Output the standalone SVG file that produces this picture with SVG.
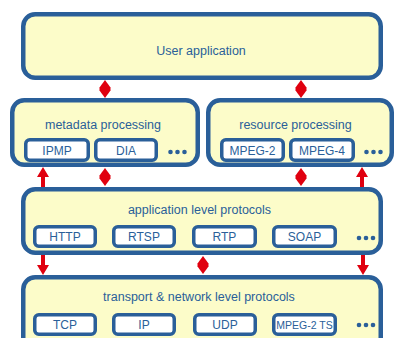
<svg xmlns="http://www.w3.org/2000/svg" width="398" height="338" viewBox="0 0 398 338">
<style>
.big{fill:#fcfcc9;stroke:#2a5f99;stroke-width:4.5}
.sub{fill:#ffffff;stroke:#2a5f99;stroke-width:3.5}
.t{font-family:"Liberation Sans",Arial,sans-serif;fill:#2a5f99;text-anchor:middle}
.h{font-size:12.5px}
.s{font-size:12px}
.dot{fill:#2a5f99}
.red{fill:#e0000f}
</style>
<defs>
<path id="dia" d="M0,-9 L5.5,-1.5 L5.5,1.5 L0,9 L-5.5,1.5 L-5.5,-1.5 Z"/>
<path id="up" d="M0,-10 L6,0 L2,0 L2,10 L-2,10 L-2,0 L-6,0 Z"/>
<path id="down" d="M0,10 L6,0 L2,0 L2,-10 L-2,-10 L-2,0 L-6,0 Z"/>
</defs>
<g id="connectors" class="red">
<use href="#dia" x="105" y="89"/>
<use href="#dia" x="301" y="89"/>
<use href="#up" x="43" y="177"/>
<use href="#dia" x="105" y="177"/>
<use href="#dia" x="301" y="177"/>
<use href="#up" x="362" y="177"/>
<use href="#down" x="43" y="265"/>
<use href="#dia" x="203" y="265"/>
<use href="#down" x="363" y="265"/>
</g>
<g id="user-application">
<rect class="big" x="23.25" y="14.25" width="357.5" height="63.5" rx="12"/>
<text class="t h" x="201" y="55">User application</text>
</g>
<g id="metadata-processing">
<rect class="big" x="12.25" y="100.25" width="185.5" height="64.5" rx="12"/>
<text class="t h" x="103" y="129">metadata processing</text>
<rect class="sub" x="25.75" y="139.75" width="62.5" height="20.5" rx="4"/>
<text class="t s" x="57" y="154.5">IPMP</text>
<rect class="sub" x="95.75" y="139.75" width="60.5" height="20.5" rx="4"/>
<text class="t s" x="126" y="154.5">DIA</text>
<circle class="dot" cx="170.5" cy="152" r="2.3"/><circle class="dot" cx="177.5" cy="152" r="2.3"/><circle class="dot" cx="184.5" cy="152" r="2.3"/>
</g>
<g id="resource-processing">
<rect class="big" x="208.25" y="100.25" width="183.5" height="64.5" rx="12"/>
<text class="t h" x="295.5" y="129">resource processing</text>
<rect class="sub" x="221.75" y="139.75" width="61.5" height="20.5" rx="4"/>
<text class="t s" x="252.5" y="154.5">MPEG-2</text>
<rect class="sub" x="290.75" y="139.75" width="62.5" height="20.5" rx="4"/>
<text class="t s" x="322" y="154.5">MPEG-4</text>
<circle class="dot" cx="366.5" cy="152" r="2.3"/><circle class="dot" cx="373.5" cy="152" r="2.3"/><circle class="dot" cx="380.5" cy="152" r="2.3"/>
</g>
<g id="application-level-protocols">
<rect class="big" x="23.25" y="189.25" width="357.5" height="63.5" rx="12"/>
<text class="t h" x="199.5" y="214">application level protocols</text>
<rect class="sub" x="34.75" y="226.75" width="60.5" height="19.5" rx="4"/>
<text class="t s" x="65" y="241">HTTP</text>
<rect class="sub" x="113.75" y="226.75" width="60.5" height="19.5" rx="4"/>
<text class="t s" x="144" y="241">RTSP</text>
<rect class="sub" x="193.75" y="226.75" width="61.5" height="19.5" rx="4"/>
<text class="t s" x="224.5" y="241">RTP</text>
<rect class="sub" x="273.75" y="226.75" width="61.5" height="19.5" rx="4"/>
<text class="t s" x="304.5" y="241">SOAP</text>
<circle class="dot" cx="359" cy="238" r="2.3"/><circle class="dot" cx="366" cy="238" r="2.3"/><circle class="dot" cx="373" cy="238" r="2.3"/>
</g>
<g id="transport-network-level-protocols">
<rect class="big" x="23.25" y="277.25" width="357.5" height="72" rx="12"/>
<text class="t h" x="199" y="301">transport &amp; network level protocols</text>
<rect class="sub" x="34.75" y="314.75" width="60.5" height="19.5" rx="4"/>
<text class="t s" x="65" y="329">TCP</text>
<rect class="sub" x="113.75" y="314.75" width="60.5" height="19.5" rx="4"/>
<text class="t s" x="144" y="329">IP</text>
<rect class="sub" x="194.75" y="314.75" width="60.5" height="19.5" rx="4"/>
<text class="t s" x="225" y="329">UDP</text>
<rect class="sub" x="273.75" y="314.75" width="61.5" height="19.5" rx="4"/>
<text class="t" x="304.5" y="328.5" font-size="10.5">MPEG-2 TS</text>
<circle class="dot" cx="359" cy="325" r="2.3"/><circle class="dot" cx="366" cy="325" r="2.3"/><circle class="dot" cx="373" cy="325" r="2.3"/>
</g>
</svg>
